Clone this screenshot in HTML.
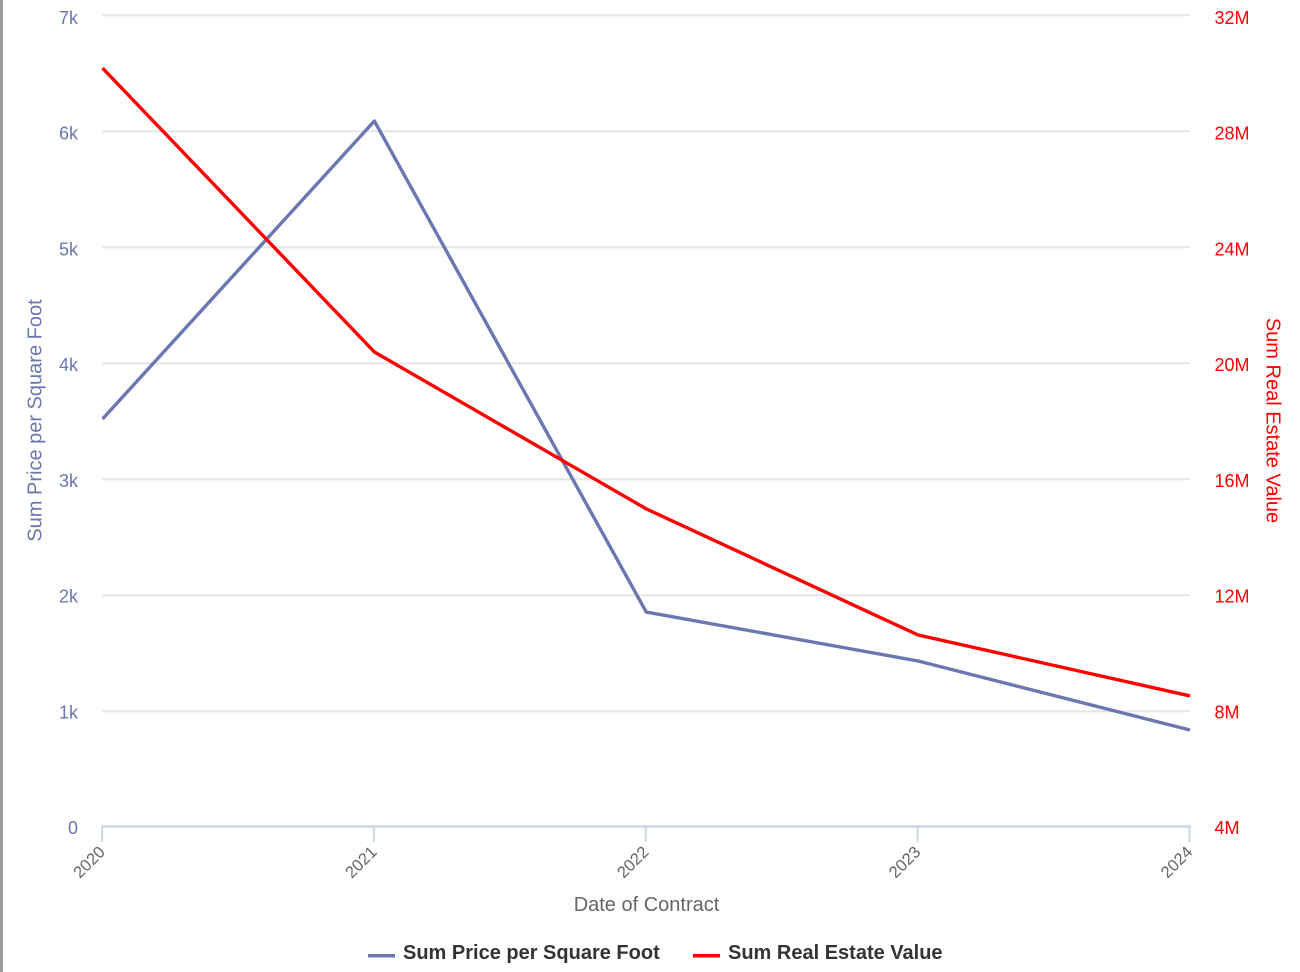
<!DOCTYPE html>
<html>
<head>
<meta charset="utf-8">
<style>
html,body{margin:0;padding:0;background:#fff;width:1300px;height:972px;overflow:hidden}
svg{display:block;position:absolute;left:0;top:0}
text{font-family:"Liberation Sans",sans-serif}
</style>
</head>
<body>
<svg id="chart" width="1300" height="972" viewBox="0 0 1300 972">
<rect x="0" y="0" width="3" height="972" fill="#999999"/>
<g id="grid"></g>
<g id="axes"></g>
<g id="series"></g>
<text x="41.5" y="420.5" transform="rotate(-90 41.5 420.5)" text-anchor="middle" font-size="20" fill="#6B77B0">Sum Price per Square Foot</text>
<text x="1266.5" y="420.5" transform="rotate(90 1266.5 420.5)" text-anchor="middle" font-size="20" fill="#ff0000">Sum Real Estate Value</text>
<text x="646.5" y="911" text-anchor="middle" font-size="20" fill="#666666">Date of Contract</text>
<g>
<rect x="368" y="954" width="27" height="3.5" fill="#6B77B0"/>
<text x="403" y="959" font-size="20" font-weight="bold" fill="#333333">Sum Price per Square Foot</text>
<rect x="693" y="954" width="27" height="3.5" fill="#ff0000"/>
<text x="728" y="959" font-size="20" font-weight="bold" fill="#333333">Sum Real Estate Value</text>
</g>
</svg>
<script>
const categories = ['2020', '2021', '2022', '2023', '2024'];
const pricePerSqFt = [3517, 6086, 1853, 1431, 836];
const realEstateValueM = [30.17, 20.38, 14.97, 10.62, 8.52];
const leftTicks = [0, 1000, 2000, 3000, 4000, 5000, 6000, 7000];
const leftTickLabels = ['0', '1k', '2k', '3k', '4k', '5k', '6k', '7k'];
const rightTicks = [4, 8, 12, 16, 20, 24, 28, 32];
const rightTickLabels = ['4M', '8M', '12M', '16M', '20M', '24M', '28M', '32M'];

const NS = 'http://www.w3.org/2000/svg';
const plotLeft = 102.5, plotRight = 1190, plotTop = 15, plotBottom = 827;
const labelTop = 24, labelBottom = 834;
function xScale(i) { return plotLeft + (plotRight - plotLeft) * i / (categories.length - 1); }
function yLeft(v) { return plotBottom - (v - 0) / 7000 * (plotBottom - plotTop); }
function yRight(v) { return plotBottom - (v - 4) / 28 * (plotBottom - plotTop); }
function labelLeft(v) { return labelBottom - v / 7000 * (labelBottom - labelTop); }
function labelRight(v) { return labelBottom - (v - 4) / 28 * (labelBottom - labelTop); }
function make(tag, attrs, parent, txt) {
  const el = document.createElementNS(NS, tag);
  for (const k in attrs) el.setAttribute(k, attrs[k]);
  if (txt !== undefined) el.textContent = txt;
  parent.appendChild(el);
  return el;
}
const grid = document.getElementById('grid');
const axes = document.getElementById('axes');
const series = document.getElementById('series');

leftTicks.forEach(function (t, i) {
  const y = yLeft(t);
  if (t !== 0) {
    const g = make('line', {x1: plotLeft, x2: plotRight, y1: y + 0.3, y2: y + 0.3, stroke: '#e6e6e6', 'stroke-width': 2}, grid);
    
    
  }
  const l = make('text', {x: 78, y: labelLeft(t), 'text-anchor': 'end', 'font-size': 18, fill: '#6B77B0'}, axes, leftTickLabels[i]);
  
  
});
rightTicks.forEach(function (t, i) {
  const l = make('text', {x: 1214.5, y: labelRight(t), 'font-size': 18, fill: '#ff0000'}, axes, rightTickLabels[i]);
  
  
});
const base = make('line', {x1: plotLeft - 1, x2: plotRight + 1, y1: plotBottom - 0.5, y2: plotBottom - 0.5, stroke: '#ccd6eb', 'stroke-width': 2.5}, axes);


categories.forEach(function (c, i) {
  const x = xScale(i) - 0.5;
  const t = make('line', {x1: x, x2: x, y1: plotBottom, y2: plotBottom + 15, stroke: '#ccd6eb', 'stroke-width': 2}, axes);
  
  
  const lx = x + 4, ly = 853;
  const l = make('text', {x: lx, y: ly, 'text-anchor': 'end', 'font-size': 16.5, fill: '#666666', transform: 'rotate(-45 ' + lx + ' ' + ly + ')'}, axes, c);
  
  
});
function linePoints(vals, scale) {
  return vals.map(function (v, i) { return xScale(i) + ',' + scale(v); }).join(' ');
}
const priceLine = make('polyline', {points: linePoints(pricePerSqFt, yLeft), fill: 'none', stroke: '#6B77B0', 'stroke-width': 3.4, 'stroke-linejoin': 'round'}, series);


const valueLine = make('polyline', {points: linePoints(realEstateValueM, yRight), fill: 'none', stroke: '#ff0000', 'stroke-width': 3.4, 'stroke-linejoin': 'round'}, series);


</script>
</body>
</html>
